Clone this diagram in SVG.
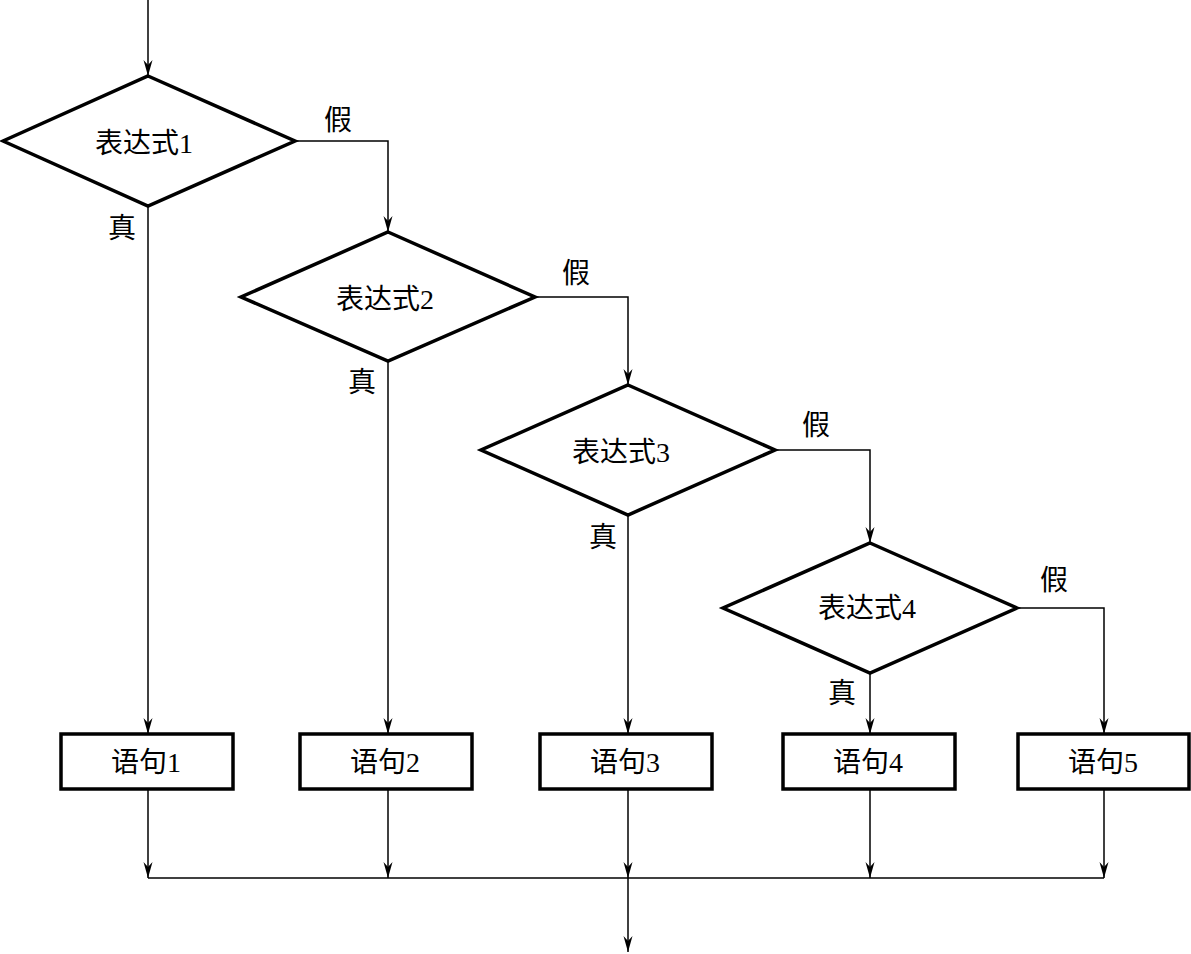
<svg xmlns="http://www.w3.org/2000/svg" width="1191" height="954" viewBox="0 0 1191 954">
<style>
.shape{fill:#fff;stroke:#000;stroke-width:3.5;stroke-linejoin:miter}
.ln{fill:none;stroke:#000;stroke-width:1.5}
.t{font-family:"Liberation Serif","Noto Sans CJK SC",serif;font-size:28px;fill:#000;text-anchor:middle;dominant-baseline:central}
</style>
<defs>
<marker id="ar" markerUnits="userSpaceOnUse" markerWidth="20" markerHeight="12" viewBox="-17 -6 18 12" refX="0" refY="0" orient="auto">
<path d="M0,0 L-16,-4.5 L-11,0 L-16,4.5 Z" fill="#000"/>
</marker>
</defs>
<g id="connectors">
<path class="ln" d="M148,0 V76" marker-end="url(#ar)"/>
<path class="ln" d="M295,141 H388 V232" marker-end="url(#ar)"/>
<path class="ln" d="M535,297 H628 V385" marker-end="url(#ar)"/>
<path class="ln" d="M775,450 H870 V543" marker-end="url(#ar)"/>
<path class="ln" d="M1017,608 H1104 V734" marker-end="url(#ar)"/>
<path class="ln" d="M148,206 V734" marker-end="url(#ar)"/>
<path class="ln" d="M388,361 V734" marker-end="url(#ar)"/>
<path class="ln" d="M628,515 V734" marker-end="url(#ar)"/>
<path class="ln" d="M870,673 V734" marker-end="url(#ar)"/>
<path class="ln" d="M148,789 V878" marker-end="url(#ar)"/>
<path class="ln" d="M388,789 V878" marker-end="url(#ar)"/>
<path class="ln" d="M628,789 V878" marker-end="url(#ar)"/>
<path class="ln" d="M870,789 V878" marker-end="url(#ar)"/>
<path class="ln" d="M1104,789 V878" marker-end="url(#ar)"/>
<path class="ln" d="M148,878 H1104"/>
<path class="ln" d="M628,878 V952" marker-end="url(#ar)"/>
<text class="t" x="338" y="120">假</text>
<text class="t" x="576" y="273">假</text>
<text class="t" x="816" y="425">假</text>
<text class="t" x="1054" y="580">假</text>
<text class="t" x="122" y="228">真</text>
<text class="t" x="362" y="382">真</text>
<text class="t" x="603" y="537">真</text>
<text class="t" x="842" y="693">真</text>
</g>
<g id="d1"><path class="shape" d="M148,76 L295,141 L148,206 L3,141 Z"/><text class="t" x="144" y="143">表达式1</text></g>
<g id="d2"><path class="shape" d="M388,232 L535,297 L388,361 L241,297 Z"/><text class="t" x="385" y="299">表达式2</text></g>
<g id="d3"><path class="shape" d="M628,385 L775,450 L628,515 L481,450 Z"/><text class="t" x="621" y="452">表达式3</text></g>
<g id="d4"><path class="shape" d="M870,543 L1017,608 L870,673 L723,608 Z"/><text class="t" x="867" y="608">表达式4</text></g>
<g id="b1"><rect class="shape" x="61" y="734" width="172" height="55"/><text class="t" x="146" y="762">语句1</text></g>
<g id="b2"><rect class="shape" x="300" y="734" width="172" height="55"/><text class="t" x="385" y="762">语句2</text></g>
<g id="b3"><rect class="shape" x="540" y="734" width="172" height="55"/><text class="t" x="625" y="762">语句3</text></g>
<g id="b4"><rect class="shape" x="783" y="734" width="172" height="55"/><text class="t" x="868" y="762">语句4</text></g>
<g id="b5"><rect class="shape" x="1018" y="734" width="171" height="55"/><text class="t" x="1103" y="762">语句5</text></g>
</svg>
